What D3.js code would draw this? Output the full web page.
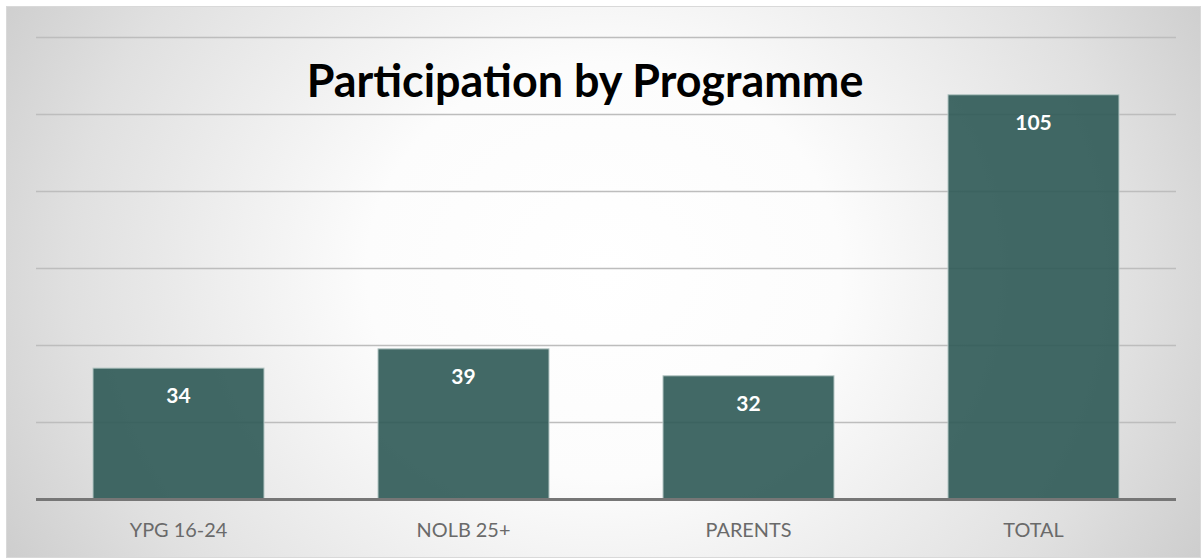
<!DOCTYPE html>
<html>
<head>
<meta charset="utf-8">
<script src="https://cdn.jsdelivr.net/npm/d3@7"></script>
<style>
  html, body { margin: 0; padding: 0; background: #fff; }
  svg { display: block; }
</style>
</head>
<body>
<div class="chart"></div>
<script>
// chart values
const categories = ['YPG 16-24', 'NOLB 25+', 'PARENTS', 'TOTAL'];
const participants = [34, 39, 32, 105];
const gridTicks = [20, 40, 60, 80, 100, 120];
const titleText = 'Participation by Programme';

const width = 1202,
    height = 559,
    margin = { top: 37, right: 26, bottom: 60, left: 36 },
    font = 'Lato, "Open Sans", sans-serif';

const svg = d3.select('.chart')
    .append('svg')
    .attr('width', width)
    .attr('height', height);

// radial background, white in the middle and grey at the edges
const grad = svg.append('defs').append('radialGradient')
    .attr('id', 'bg')
    .attr('cx', '50%').attr('cy', '48%').attr('r', '62%')
    .attr('gradientTransform', 'translate(0.5,0.48) scale(1,1.9) translate(-0.5,-0.48)');
grad.append('stop').attr('offset', '0%').attr('stop-color', '#ffffff');
grad.append('stop').attr('offset', '32%').attr('stop-color', '#fcfcfc');
grad.append('stop').attr('offset', '72%').attr('stop-color', '#e0e0e0');
grad.append('stop').attr('offset', '100%').attr('stop-color', '#c6c6c6');

svg.append('rect')
    .attr('x', 6.5).attr('y', 6.5)
    .attr('width', 1194).attr('height', 551)
    .attr('fill', 'url(#bg)')
    .attr('stroke', '#d9d9d9')
    .attr('stroke-width', 1);

const x = d3.scaleBand()
    .domain(categories)
    .range([margin.left, width - margin.right])
    .paddingInner(0.4)
    .paddingOuter(0.2);

const y = d3.scaleLinear()
    .domain([0, 120])
    .range([height - margin.bottom, margin.top]);

// gridlines
svg.append('g')
    .selectAll('line')
    .data(gridTicks)
    .enter().append('line')
    .attr('x1', margin.left)
    .attr('x2', width - margin.right)
    .attr('y1', (d) => Math.round(y(d)) + 0.5)
    .attr('y2', (d) => Math.round(y(d)) + 0.5)
    .attr('stroke', '#bdbdbd')
    .attr('stroke-width', 1.5);

// bars
svg.append('g')
    .selectAll('rect')
    .data(participants)
    .enter().append('rect')
    .attr('x', (d, i) => x(categories[i]))
    .attr('y', (d) => y(d))
    .attr('width', x.bandwidth())
    .attr('height', (d) => y(0) - y(d))
    .attr('fill', '#2e5955')
    .attr('fill-opacity', 0.9)
    .attr('stroke', '#b4c6c4')
    .attr('stroke-width', 1);

// baseline
svg.append('line')
    .attr('x1', margin.left)
    .attr('x2', width - margin.right)
    .attr('y1', y(0) + 0.5)
    .attr('y2', y(0) + 0.5)
    .attr('stroke', '#767676')
    .attr('stroke-width', 3);

// value labels inside the bars
svg.append('g')
    .selectAll('text')
    .data(participants)
    .enter().append('text')
    .attr('x', (d, i) => x(categories[i]) + x.bandwidth() / 2)
    .attr('y', (d) => y(d) + 35)
    .attr('text-anchor', 'middle')
    .attr('font-family', font)
    .attr('font-weight', 'bold')
    .attr('font-size', 21)
    .attr('fill', '#ffffff')
    .text((d) => d);

// category labels
const catLabels = svg.append('g')
    .selectAll('text')
    .data(categories)
    .enter().append('text')
    .attr('x', (d) => x(d) + x.bandwidth() / 2)
    .attr('y', 537)
    .attr('text-anchor', 'middle')
    .attr('font-family', font)
    .attr('font-size', 20)
    .attr('fill', '#6a6a6a')
    .text((d) => d);

// title, sized so it spans about the same width as the original
const title = svg.append('text')
    .attr('x', 585)
    .attr('y', 97)
    .attr('text-anchor', 'middle')
    .attr('font-family', font)
    .attr('font-weight', 'bold')
    .attr('font-size', 44)
    .attr('fill', '#000000')
    .text(titleText);

const tw = title.node().getComputedTextLength();
title.attr('font-size', 44 * 557 / tw);

const pw = catLabels.filter((d) => d === 'PARENTS').node().getComputedTextLength();
catLabels.attr('font-size', 20 * 86 / pw);
</script>
</body>
</html>
